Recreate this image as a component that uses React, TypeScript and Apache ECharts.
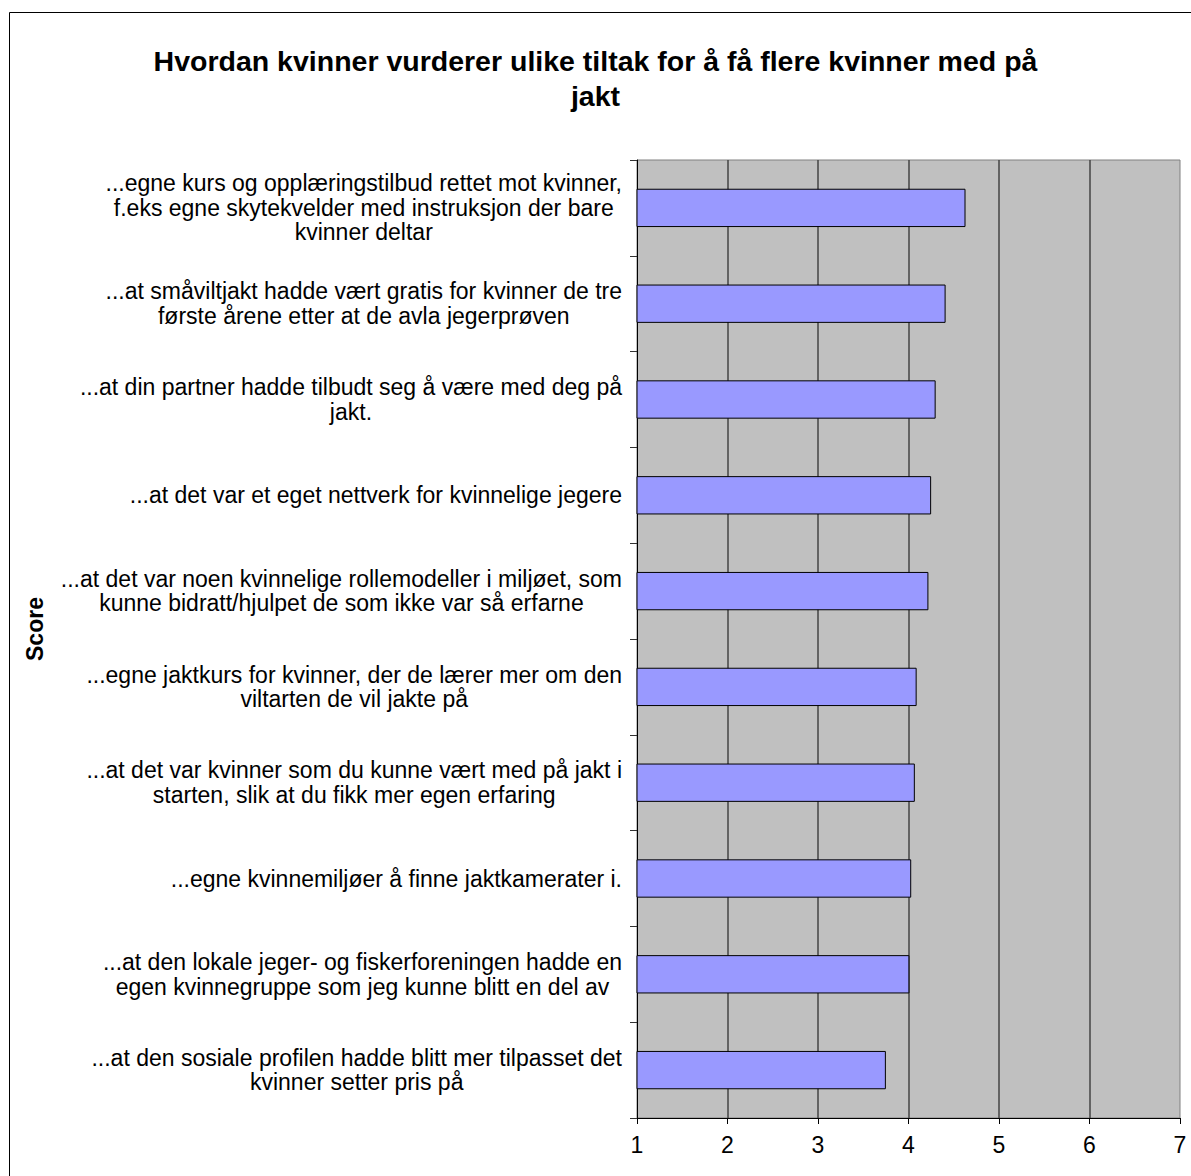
import React, { useEffect, useRef } from "react";
import * as echarts from "echarts";

const categories: string[] = [
  "...egne kurs og opplæringstilbud rettet mot kvinner,\nf.eks egne skytekvelder med instruksjon der bare\nkvinner deltar",
  "...at småviltjakt hadde vært gratis for kvinner de tre\nførste årene etter at de avla jegerprøven",
  "...at din partner hadde tilbudt seg å være med deg på\njakt.",
  "...at det var et eget nettverk for kvinnelige jegere",
  "...at det var noen kvinnelige rollemodeller i miljøet, som\nkunne bidratt/hjulpet de som ikke var så erfarne",
  "...egne jaktkurs for kvinner, der de lærer mer om den\nviltarten de vil jakte på",
  "...at det var kvinner som du kunne vært med på jakt i\nstarten, slik at du fikk mer egen erfaring",
  "...egne kvinnemiljøer å finne jaktkamerater i.",
  "...at den lokale jeger- og fiskerforeningen hadde en\negen kvinnegruppe som jeg kunne blitt en del av",
  "...at den sosiale profilen hadde blitt mer tilpasset det\nkvinner setter pris på",
];

const scores: number[] = [4.63, 4.41, 4.3, 4.25, 4.22, 4.09, 4.07, 4.03, 4.01, 3.75];

const titleText = "Hvordan kvinner vurderer ulike tiltak for å få flere kvinner med på\njakt";
const axisName = "Score";

const FONT = "'Liberation Sans', Arial, Helvetica, sans-serif";

export default function App() {
  const ref = useRef<HTMLDivElement>(null);
  useEffect(() => {
    if (!ref.current) return;
    const chart = echarts.init(ref.current, undefined, { renderer: "svg" });
    chart.setOption({
      animation: false,
      backgroundColor: "#ffffff",
      textStyle: { fontFamily: FONT },
      title: {
        text: titleText,
        left: "center",
        top: 43,
        padding: [0, 0, 0, 9],
        textStyle: {
          fontFamily: FONT,
          fontSize: 28.5,
          fontWeight: "bold",
          color: "#000",
          lineHeight: 35,
        },
      },
      graphic: [
        {
          type: "rect",
          shape: { x: 9.5, y: 12.5, width: 1300, height: 1300 },
          style: { fill: "none", stroke: "#000", lineWidth: 1 },
          silent: true,
        },
      ],
      grid: {
        left: 637,
        top: 160,
        right: 11,
        bottom: 58,
        show: true,
        backgroundColor: "#C0C0C0",
        borderColor: "#808080",
        borderWidth: 1,
      },
      xAxis: {
        type: "value",
        min: 1,
        max: 7,
        interval: 1,
        axisLine: { show: true, lineStyle: { color: "#000", width: 1 } },
        axisTick: { show: true, length: 6, lineStyle: { color: "#000" } },
        axisLabel: { fontSize: 23, color: "#000", margin: 15, fontFamily: FONT },
        splitLine: {
          show: true,
          showMinLine: false,
          showMaxLine: false,
          lineStyle: { color: "#444", width: 1.5 },
        },
      },
      yAxis: {
        type: "category",
        inverse: true,
        data: categories,
        name: axisName,
        nameLocation: "middle",
        nameGap: 591,
        nameRotate: 90,
        nameTextStyle: {
          fontFamily: FONT,
          fontSize: 23,
          fontWeight: "bold",
          color: "#000",
          padding: [0, 0, 0, 20],
        },
        axisLine: { show: true, lineStyle: { color: "#000", width: 1 } },
        axisTick: { show: true, length: 7, lineStyle: { color: "#333" } },
        axisLabel: {
          margin: 15,
          color: "#000",
          formatter: (v: string) =>
            v
              .split("\n")
              .map((l) => `{c|${l}}`)
              .join("\n"),
          rich: {
            c: {
              fontFamily: FONT,
              fontSize: 23,
              lineHeight: 24.5,
              align: "center",
              color: "#000",
            },
          },
        },
        splitLine: { show: false },
      },
      series: [
        {
          type: "bar",
          data: scores,
          barCategoryGap: "60%",
          itemStyle: { color: "#9999FF", borderColor: "#000", borderWidth: 1 },
        },
      ],
    });
    return () => chart.dispose();
  }, []);
  return (
    <div
      ref={ref}
      style={{ position: "absolute", left: 0, top: 0, width: 1191, height: 1176 }}
    />
  );
}
